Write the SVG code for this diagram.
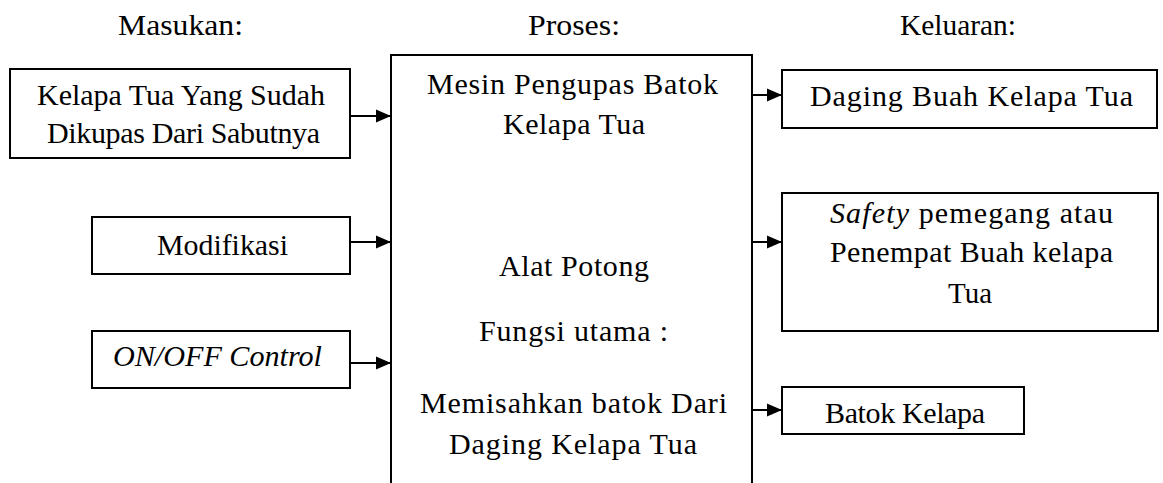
<svg xmlns="http://www.w3.org/2000/svg" width="1163" height="483" viewBox="0 0 1163 483">
<style>
.box{fill:#fff;stroke:#000;stroke-width:2}
.t{font-family:"Liberation Serif","Times New Roman",serif;font-size:30px;fill:#000}
.i{font-style:italic}
.c{stroke:#000;stroke-width:2;fill:none}
</style>
<defs>
<marker id="ah" markerUnits="userSpaceOnUse" markerWidth="16" markerHeight="14" refX="15" refY="7" orient="auto">
<path d="M0,0.5 L15,7 L0,13.5 z" fill="#000"/>
</marker>
</defs>
<g id="headers">
<text class="t" x="118" y="35" textLength="125" lengthAdjust="spacingAndGlyphs">Masukan:</text>
<text class="t" x="528" y="35" textLength="92" lengthAdjust="spacingAndGlyphs">Proses:</text>
<text class="t" x="900" y="35" textLength="116" lengthAdjust="spacingAndGlyphs">Keluaran:</text>
</g>
<g id="proses">
<path class="c" d="M391,483 V55 H752 V483"/>
<text class="t" x="427" y="94" textLength="291" lengthAdjust="spacing">Mesin Pengupas Batok</text>
<text class="t" x="503" y="134" textLength="142" lengthAdjust="spacing">Kelapa Tua</text>
<text class="t" x="499" y="276" textLength="150" lengthAdjust="spacing">Alat Potong</text>
<text class="t" x="479" y="341" textLength="189" lengthAdjust="spacing">Fungsi utama :</text>
<text class="t" x="420" y="413" textLength="307" lengthAdjust="spacing">Memisahkan batok Dari</text>
<text class="t" x="449" y="454" textLength="248" lengthAdjust="spacing">Daging Kelapa Tua</text>
</g>
<g id="in1">
<rect class="box" x="10" y="69" width="340" height="89"/>
<text class="t" x="37" y="105" textLength="288" lengthAdjust="spacing">Kelapa Tua Yang Sudah</text>
<text class="t" x="47" y="143" textLength="273" lengthAdjust="spacing">Dikupas Dari Sabutnya</text>
</g>
<g id="in2">
<rect class="box" x="92" y="217" width="258" height="57"/>
<text class="t" x="157" y="255" textLength="131" lengthAdjust="spacingAndGlyphs">Modifikasi</text>
</g>
<g id="in3">
<rect class="box" x="92" y="331" width="258" height="57"/>
<text class="t i" x="113" y="366" textLength="209" lengthAdjust="spacingAndGlyphs">ON/OFF Control</text>
</g>
<g id="out1">
<rect class="box" x="782" y="70" width="375" height="58"/>
<text class="t" x="810" y="106" textLength="323" lengthAdjust="spacing">Daging Buah Kelapa Tua</text>
</g>
<g id="out2">
<rect class="box" x="782" y="193" width="376" height="138"/>
<text class="t" x="830" y="223" textLength="283" lengthAdjust="spacing"><tspan class="i">Safety</tspan> pemegang atau</text>
<text class="t" x="830" y="262" textLength="283" lengthAdjust="spacing">Penempat Buah kelapa</text>
<text class="t" x="948" y="303" textLength="44" lengthAdjust="spacingAndGlyphs">Tua</text>
</g>
<g id="out3">
<rect class="box" x="782" y="387" width="242" height="47"/>
<text class="t" x="825" y="423" textLength="160" lengthAdjust="spacing">Batok Kelapa</text>
</g>
<g id="connectors">
<line class="c" x1="350" y1="116" x2="391" y2="116" marker-end="url(#ah)"/>
<line class="c" x1="350" y1="242" x2="391" y2="242" marker-end="url(#ah)"/>
<line class="c" x1="350" y1="363" x2="391" y2="363" marker-end="url(#ah)"/>
<line class="c" x1="752" y1="95" x2="782" y2="95" marker-end="url(#ah)"/>
<line class="c" x1="752" y1="242" x2="782" y2="242" marker-end="url(#ah)"/>
<line class="c" x1="752" y1="410" x2="782" y2="410" marker-end="url(#ah)"/>
</g>
</svg>
